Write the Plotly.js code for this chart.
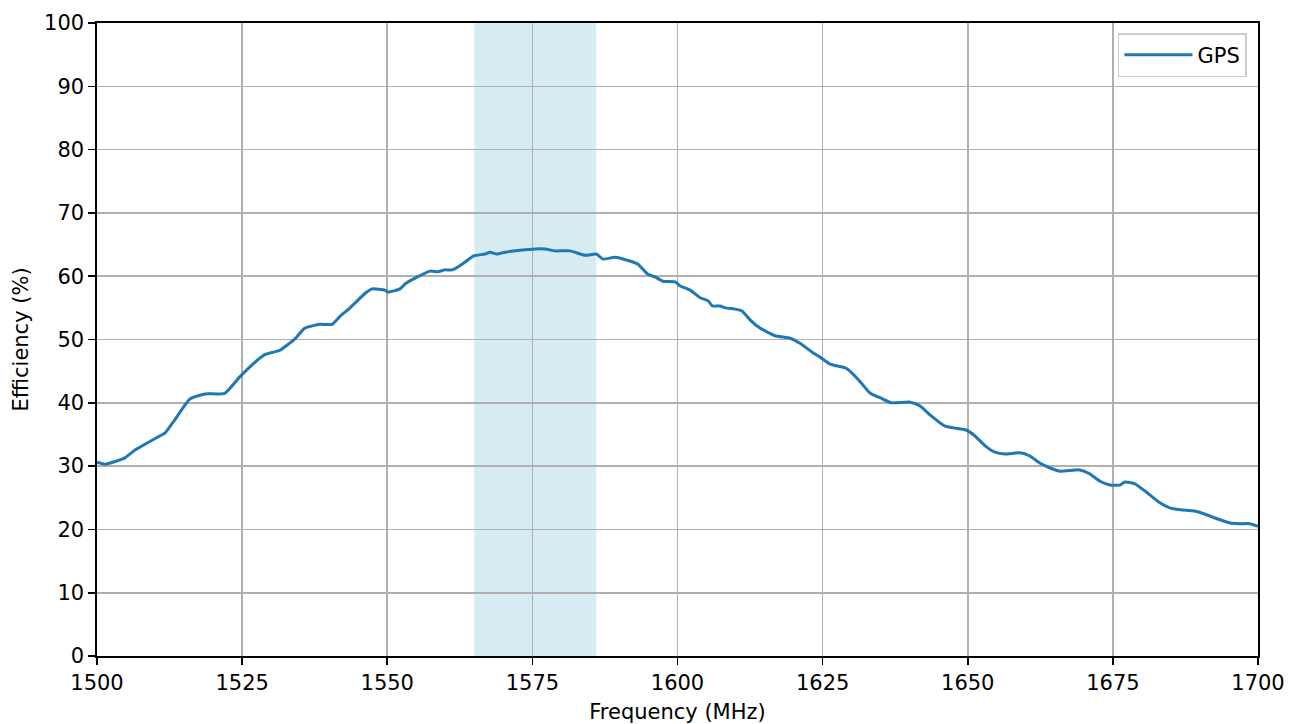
<!DOCTYPE html>
<html>
<head>
<meta charset="utf-8">
<script src="https://cdn.plot.ly/plotly-3.0.1.min.js"></script>
<style>
  html, body { margin: 0; padding: 0; background: #fff; }
  #chart { width: 1300px; height: 724px; }
</style>
</head>
<body>
<div id="chart"></div>
<script>
// Frequency (MHz)
const frequency = [
  1500, 1501.4, 1504.8, 1506.5, 1510.9, 1511.7, 1513.4, 1516.0, 1518.6, 1522.0,
  1524.6, 1527.2, 1528.9, 1531.5, 1534.1, 1535.8, 1538.4, 1540.5, 1541.9, 1543.6,
  1546.2, 1547.4, 1549.6, 1550.1, 1552.2, 1553.1, 1554.8, 1557.4, 1558.7, 1559.9,
  1561.2, 1562.9, 1564.9, 1566.8, 1567.7, 1568.9, 1570.3, 1572.9, 1575.5, 1577.2,
  1578.9, 1581.5, 1584.1, 1586.0, 1587.2, 1589.2, 1591.8, 1593.2, 1594.9, 1596.1,
  1597.5, 1599.6, 1600.4, 1602.2, 1603.9, 1605.3, 1606.0, 1607.3, 1608.2, 1609.9,
  1611.1, 1612.5, 1614.2, 1616.8, 1619.4, 1621.1, 1623.2, 1624.6, 1626.3, 1628.9,
  1629.7, 1631.4, 1633.2, 1634.9, 1636.9, 1640.1, 1641.8, 1643.5, 1646.1, 1647.8,
  1649.7, 1651.2, 1653.0, 1654.7, 1656.4, 1659.0, 1660.7, 1662.4, 1664.2, 1665.9,
  1669.3, 1671.0, 1672.8, 1674.5, 1676.2, 1677.1, 1678.8, 1680.5, 1683.1, 1684.8,
  1686.6, 1689.1, 1690.9, 1692.6, 1695.2, 1696.9, 1698.6, 1700
];
// GPS efficiency (%)
const gpsEfficiency = [
  30.6, 30.3, 31.3, 32.5, 34.8, 35.2, 37.3, 40.6, 41.4, 41.5,
  44.1, 46.4, 47.6, 48.3, 50.1, 51.8, 52.4, 52.4, 53.7, 55.0,
  57.3, 58.0, 57.8, 57.5, 58.0, 58.8, 59.7, 60.8, 60.7, 61.0,
  61.0, 61.9, 63.2, 63.5, 63.8, 63.5, 63.8, 64.1, 64.3, 64.3,
  64.0, 64.0, 63.3, 63.5, 62.7, 63.0, 62.4, 61.9, 60.3, 59.9,
  59.2, 59.1, 58.5, 57.8, 56.6, 56.1, 55.3, 55.3, 55.0, 54.8,
  54.5, 53.1, 51.8, 50.6, 50.2, 49.4, 48.0, 47.2, 46.1, 45.5,
  45.0, 43.4, 41.5, 40.8, 40.0, 40.1, 39.5, 38.1, 36.3, 36.0,
  35.7, 34.8, 33.2, 32.2, 31.9, 32.1, 31.6, 30.5, 29.7, 29.2,
  29.4, 28.8, 27.6, 27.0, 27.0, 27.5, 27.2, 26.1, 24.2, 23.4,
  23.1, 22.9, 22.4, 21.8, 21.0, 20.9, 20.9, 20.5
];
const seriesName = "GPS";
// GPS L1 band highlight (MHz)
const bandStart = 1565;
const bandEnd = 1586;
const xTicks = [1500, 1525, 1550, 1575, 1600, 1625, 1650, 1675, 1700];
const yTicks = [0, 10, 20, 30, 40, 50, 60, 70, 80, 90, 100];

const font = { family: "DejaVu Sans, sans-serif", size: 21, color: "#000" };

const trace = {
  x: frequency,
  y: gpsEfficiency,
  type: "scatter",
  mode: "lines",
  name: seriesName,
  line: { color: "#1f77b4", width: 3, shape: "spline", smoothing: 0.5 },
  showlegend: true
};

const axisCommon = {
  showline: true,
  mirror: true,
  linecolor: "#000",
  linewidth: 1.6,
  ticks: "outside",
  ticklen: 7,
  tickwidth: 1.6,
  tickcolor: "#000",
  showgrid: true,
  gridcolor: "#b0b0b0",
  gridwidth: 1.6,
  zeroline: false,
  tickfont: font
};

const layout = {
  width: 1300,
  height: 724,
  margin: { l: 97, r: 42, t: 23, b: 68 },
  paper_bgcolor: "#fff",
  plot_bgcolor: "#fff",
  font: font,
  showlegend: true,
  xaxis: Object.assign({}, axisCommon, {
    range: [1500, 1700],
    tickvals: xTicks,
    ticktext: xTicks.map(String),
    title: { text: "Frequency (MHz)", font: font, standoff: 10 },
    automargin: false
  }),
  yaxis: Object.assign({}, axisCommon, {
    range: [0, 100],
    tickvals: yTicks,
    ticktext: yTicks.map(String),
    title: { text: "Efficiency (%)", font: font, standoff: 10 },
    automargin: false
  }),
  shapes: [{
    type: "rect",
    xref: "x",
    yref: "paper",
    x0: bandStart,
    x1: bandEnd,
    y0: 0,
    y1: 1,
    fillcolor: "#add8e6",
    opacity: 0.5,
    line: { width: 0 },
    layer: "between"
  }],
  legend: {
    x: 0.9905,
    y: 0.984,
    xanchor: "right",
    yanchor: "top",
    bgcolor: "rgba(255,255,255,0.8)",
    bordercolor: "#cccccc",
    borderwidth: 1.5,
    itemwidth: 68,
    font: font
  }
};

Plotly.newPlot("chart", [trace], layout, { displayModeBar: false, staticPlot: true });
</script>
</body>
</html>
